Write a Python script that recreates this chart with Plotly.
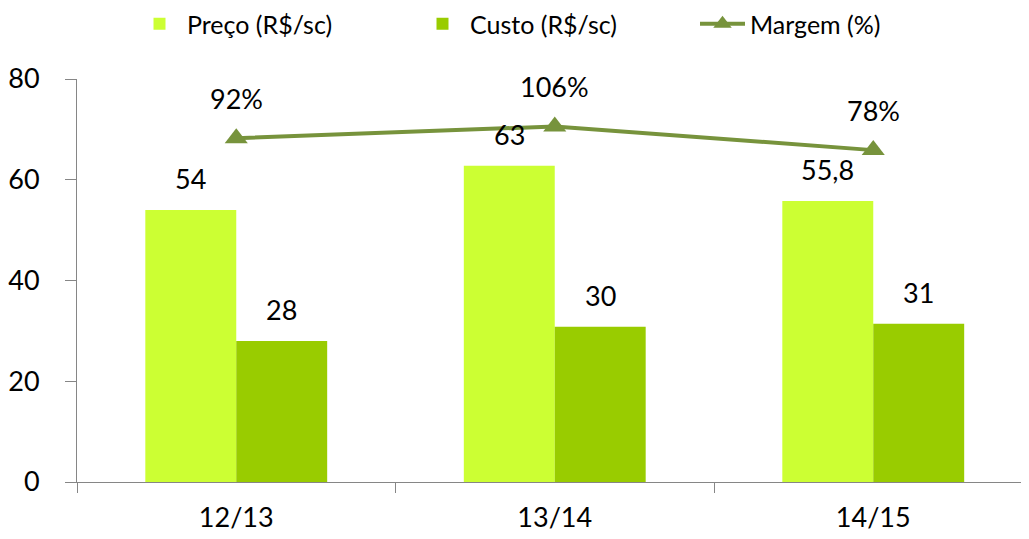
import plotly.graph_objects as go

categories = ["12/13", "13/14", "14/15"]
preco = [54, 62.8, 55.8]
preco_labels = ["54", "63", "55,8"]
custo = [28, 30.8, 31.4]
custo_labels = ["28", "30", "31"]
margem = [92, 106, 78]
margem_labels = ["92%", "106%", "78%"]

C_PRECO = "#CCFF33"
C_CUSTO = "#99CC00"
C_MARGEM = "#77933C"
AXIS = "#868686"
FONT = "Lato"

# the page body has an 8px margin, so the figure is drawn 8px in from the corner
W, H = 1021, 531

fig = go.Figure()
fig.add_trace(go.Bar(name="Preço (R$/sc)", x=categories, y=preco, marker_color=C_PRECO,
                     marker_line_width=0, legend="legend"))
fig.add_trace(go.Bar(name="Custo (R$/sc)", x=categories, y=custo, marker_color=C_CUSTO,
                     marker_line_width=0, legend="legend2"))
fig.add_trace(go.Scatter(name="Margem (%)", x=categories, y=margem, yaxis="y2",
                         mode="lines+markers", legend="legend3",
                         line=dict(color=C_MARGEM, width=4),
                         marker=dict(symbol="triangle-up", size=20, color=C_MARGEM)))

ann = []
bar_half = 45.5
lab_font = dict(size=27, color="black", family=FONT)
for c, v, t in zip(categories, preco, preco_labels):
    ann.append(dict(x=c, y=v, xref="x", yref="y", text=t, showarrow=False,
                    xshift=-bar_half, yshift=31, font=lab_font))
for c, v, t in zip(categories, custo, custo_labels):
    ann.append(dict(x=c, y=v, xref="x", yref="y", text=t, showarrow=False,
                    xshift=bar_half, yshift=31, font=lab_font))
for c, v, t in zip(categories, margem, margem_labels):
    ann.append(dict(x=c, y=v, xref="x", yref="y2", text=t, showarrow=False,
                    yshift=40, font=lab_font))

def leg(xpx):
    return dict(orientation="h", xref="container", yref="container",
                x=xpx / W, xanchor="left", y=1 - 16 / H, yanchor="middle",
                font=dict(size=25, family=FONT, color="black"),
                itemwidth=45, bgcolor="rgba(0,0,0,0)")

fig.update_layout(
    width=W, height=H,
    margin=dict(l=69, r=0, t=71, b=57),
    paper_bgcolor="white", plot_bgcolor="white",
    font=dict(family=FONT, size=27, color="black"),
    barmode="group", bargap=0.429, bargroupgap=0,
    showlegend=True,
    legend=leg(124),
    legend2=leg(407),
    legend3=leg(687),
    xaxis=dict(type="category", range=[-0.5, 2.489], showline=True, linecolor=AXIS,
               linewidth=1, ticks="outside", tickson="boundaries", ticklen=10,
               tickcolor=AXIS, showgrid=False, ticklabelstandoff=12,
               tickfont=dict(size=27)),
    yaxis=dict(range=[0, 80], dtick=20, showline=True, linecolor=AXIS, linewidth=1,
               ticks="outside", ticklen=11, tickcolor=AXIS, showgrid=False,
               zeroline=False, ticklabelstandoff=20, tickfont=dict(size=27)),
    yaxis2=dict(overlaying="y", range=[-314, 162], visible=False),
    annotations=ann,
)

fig.write_html("out.html")
